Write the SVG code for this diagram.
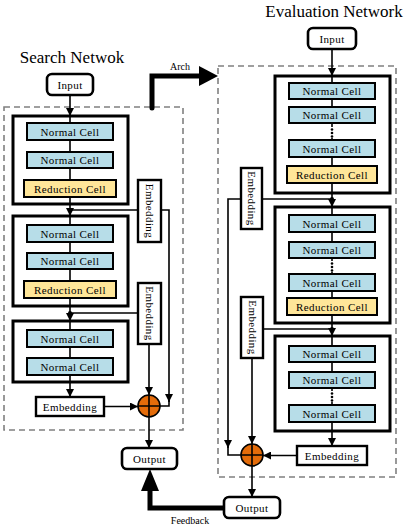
<svg xmlns="http://www.w3.org/2000/svg" width="415" height="528" viewBox="0 0 415 528">
<defs>
<marker id="ah" viewBox="0 0 10 10" refX="10" refY="5" markerWidth="8" markerHeight="8" orient="auto" markerUnits="userSpaceOnUse"><path d="M0,0 L10,5 L0,10 z" fill="#000"/></marker>
<style>
text{font-family:"Liberation Serif","Times New Roman",serif;fill:#000}
.title{font-family:"Liberation Serif","Times New Roman",serif;font-size:17px}
.lbl{font-family:"Liberation Serif","Times New Roman",serif;font-size:11px;text-anchor:middle;letter-spacing:0.4px}
.small{font-family:"Liberation Serif","Times New Roman",serif;font-size:10px;text-anchor:middle}
.dash{fill:none;stroke:#808080;stroke-width:1.6;stroke-dasharray:6,4}
.blk{fill:#fff;stroke:#000;stroke-width:3}
.nc{fill:#b7dde8;stroke:#000;stroke-width:2}
.rc{fill:#ffe699;stroke:#000;stroke-width:2}
.io{fill:#fff;stroke:#000;stroke-width:2.6}
.emb{fill:#fff;stroke:#000;stroke-width:2.4}
.ln{fill:none;stroke:#000;stroke-width:1.6}
.thick{fill:none;stroke:#000;stroke-width:5}
.sum{fill:#e46c0a;stroke:#000;stroke-width:1.6}
</style>
</defs>

<text class="title" x="72" y="63" text-anchor="middle">Search Netwok</text>
<text class="title" x="334" y="17" text-anchor="middle">Evaluation Network</text>

<rect class="dash" x="4" y="107" width="179" height="323"/>
<rect class="dash" x="218" y="66" width="178" height="411"/>

<g id="connectors">
<path class="ln" d="M70,95 V116" marker-end="url(#ah)"/>
<path class="ln" d="M70,197 V216" marker-end="url(#ah)"/>
<path class="ln" d="M70,210 H169 V402" marker-end="url(#ah)"/>
<path class="ln" d="M169,400 V406 H155"/>
<path class="ln" d="M70,298 V321" marker-end="url(#ah)"/>
<path class="ln" d="M70,313 H138"/>
<path class="ln" d="M70,375 V397" marker-end="url(#ah)"/>
<path class="ln" d="M149,344 V395" marker-end="url(#ah)"/>
<path class="ln" d="M104,406.5 H138" marker-end="url(#ah)"/>
<path class="ln" d="M149,417 V448" marker-end="url(#ah)"/>
<circle cx="70" cy="210" r="2"/>
<circle cx="70" cy="313" r="2"/>
<path class="thick" d="M152,108 V76 H201" stroke-linecap="round" stroke-linejoin="miter"/>
<polygon points="199,66 218,76 199,86" fill="#000"/>
<text class="small" x="180" y="70">Arch</text>
<path class="ln" d="M332,49 V76" marker-end="url(#ah)"/>
<path class="ln" d="M332,183 V207" marker-end="url(#ah)"/>
<path class="ln" d="M332,199 H228 V448" marker-end="url(#ah)"/>
<path class="ln" d="M228,446 V455 H241"/>
<path class="ln" d="M332,315 V336" marker-end="url(#ah)"/>
<path class="ln" d="M332,329 H263"/>
<path class="ln" d="M332,422 V446" marker-end="url(#ah)"/>
<path class="ln" d="M252,358 V444" marker-end="url(#ah)"/>
<path class="ln" d="M297,455.5 H263" marker-end="url(#ah)"/>
<path class="ln" d="M252,466 V497" marker-end="url(#ah)"/>
<circle cx="332" cy="199" r="2"/>
<circle cx="332" cy="329" r="2"/>
<path class="thick" d="M224,508 H150 V488" stroke-width="4.5"/>
<polygon points="150,469 141,491 159,491" fill="#000"/>
<text class="small" x="190" y="524">Feedback</text>
</g>

<g id="s-input"><rect class="io" x="47" y="74" width="46" height="21" rx="5"/><text class="lbl" x="70" y="88.5">Input</text></g>
<g id="s-block1">
<rect class="blk" x="13" y="116" width="115" height="88"/>
<path class="ln" d="M70,116 V123 M70,140 V152 M70,168 V180 M70,197 V204"/>
<rect class="nc" x="27" y="123" width="86" height="17"/><text class="lbl" x="70" y="135.5">Normal Cell</text>
<rect class="nc" x="27" y="152" width="86" height="16"/><text class="lbl" x="70" y="164">Normal Cell</text>
<rect class="rc" x="24" y="180" width="92" height="17"/><text class="lbl" x="70" y="192.5">Reduction Cell</text>
</g>
<g id="s-block2">
<rect class="blk" x="13" y="216" width="115" height="90"/>
<path class="ln" d="M70,216 V225 M70,242 V253 M70,269 V281 M70,298 V306"/>
<rect class="nc" x="27" y="225" width="86" height="17"/><text class="lbl" x="70" y="237.5">Normal Cell</text>
<rect class="nc" x="27" y="253" width="86" height="16"/><text class="lbl" x="70" y="265">Normal Cell</text>
<rect class="rc" x="24" y="281" width="92" height="17"/><text class="lbl" x="70" y="293.5">Reduction Cell</text>
</g>
<g id="s-block3">
<rect class="blk" x="13" y="321" width="115" height="61"/>
<path class="ln" d="M70,321 V330 M70,347 V358 M70,375 V382"/>
<rect class="nc" x="27" y="330" width="86" height="17"/><text class="lbl" x="70" y="342.5">Normal Cell</text>
<rect class="nc" x="27" y="358" width="86" height="17"/><text class="lbl" x="70" y="370.5">Normal Cell</text>
</g>
<g id="s-emb1"><rect class="emb" x="138" y="180" width="23" height="62"/><text class="lbl" transform="translate(146,211) rotate(90)" x="0" y="0">Embedding</text></g>
<g id="s-emb2"><rect class="emb" x="138" y="283" width="23" height="61"/><text class="lbl" transform="translate(146,313.5) rotate(90)" x="0" y="0">Embedding</text></g>
<g id="s-emb3"><rect class="emb" x="36" y="397" width="68" height="19"/><text class="lbl" x="70" y="410.5">Embedding</text></g>
<g id="s-sum"><circle class="sum" cx="149" cy="406" r="11"/><path class="ln" d="M138,406 H160 M149,395 V417"/></g>
<g id="s-output"><rect class="io" x="122" y="448" width="55" height="21" rx="5"/><text class="lbl" x="149.5" y="462.5">Output</text></g>

<g id="e-input"><rect class="io" x="308" y="28" width="48" height="21" rx="5"/><text class="lbl" x="332" y="42.5">Input</text></g>
<g id="e-block1">
<rect class="blk" x="275" y="76" width="115" height="117"/>
<path class="ln" d="M332,76 V83 M332,99 V107 M332,123 V127 M332,138 V140 M332,157 V166 M332,183 V193"/>
<rect class="nc" x="289" y="83" width="86" height="16"/><text class="lbl" x="332" y="95">Normal Cell</text>
<rect class="nc" x="289" y="107" width="86" height="16"/><text class="lbl" x="332" y="119">Normal Cell</text>
<circle cx="332" cy="129.5" r="1.3"/><circle cx="332" cy="133" r="1.3"/><circle cx="332" cy="136.5" r="1.3"/>
<rect class="nc" x="289" y="140" width="86" height="17"/><text class="lbl" x="332" y="152.5">Normal Cell</text>
<rect class="rc" x="287" y="166" width="90" height="17"/><text class="lbl" x="332" y="178.5">Reduction Cell</text>
</g>
<g id="e-block2">
<rect class="blk" x="275" y="207" width="115" height="116"/>
<path class="ln" d="M332,207 V215 M332,232 V242 M332,258 V261 M332,272 V274 M332,291 V298 M332,315 V323"/>
<rect class="nc" x="289" y="215" width="86" height="17"/><text class="lbl" x="332" y="227.5">Normal Cell</text>
<rect class="nc" x="289" y="242" width="86" height="16"/><text class="lbl" x="332" y="254">Normal Cell</text>
<circle cx="332" cy="263.5" r="1.3"/><circle cx="332" cy="267" r="1.3"/><circle cx="332" cy="270.5" r="1.3"/>
<rect class="nc" x="289" y="274" width="86" height="17"/><text class="lbl" x="332" y="286.5">Normal Cell</text>
<rect class="rc" x="287" y="298" width="90" height="17"/><text class="lbl" x="332" y="310.5">Reduction Cell</text>
</g>
<g id="e-block3">
<rect class="blk" x="275" y="336" width="115" height="95"/>
<path class="ln" d="M332,336 V346 M332,362 V372 M332,388 V391 M332,402 V405 M332,422 V431"/>
<rect class="nc" x="289" y="346" width="86" height="16"/><text class="lbl" x="332" y="358">Normal Cell</text>
<rect class="nc" x="289" y="372" width="86" height="16"/><text class="lbl" x="332" y="384">Normal Cell</text>
<circle cx="332" cy="393.5" r="1.3"/><circle cx="332" cy="397" r="1.3"/><circle cx="332" cy="400.5" r="1.3"/>
<rect class="nc" x="289" y="405" width="86" height="17"/><text class="lbl" x="332" y="417.5">Normal Cell</text>
</g>
<g id="e-emb1"><rect class="emb" x="241" y="168" width="21" height="61"/><text class="lbl" transform="translate(248,198.5) rotate(90)" x="0" y="0">Embedding</text></g>
<g id="e-emb2"><rect class="emb" x="241" y="297" width="22" height="61"/><text class="lbl" transform="translate(248.5,327.5) rotate(90)" x="0" y="0">Embedding</text></g>
<g id="e-emb3"><rect class="emb" x="297" y="446" width="70" height="19"/><text class="lbl" x="332" y="459.5">Embedding</text></g>
<g id="e-sum"><circle class="sum" cx="252" cy="455" r="11"/><path class="ln" d="M241,455 H263 M252,444 V466"/></g>
<g id="e-output"><rect class="io" x="224" y="497" width="56" height="21" rx="5"/><text class="lbl" x="252" y="511.5">Output</text></g>
</svg>
